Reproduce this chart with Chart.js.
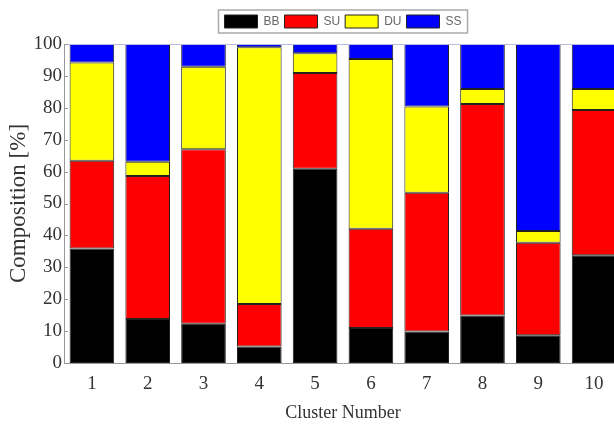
<!DOCTYPE html>
<html>
<head>
<meta charset="utf-8">
<script src="https://cdn.jsdelivr.net/npm/chart.js@4"></script>
<style>
  body { margin: 0; background: #fff; overflow: hidden; }
  #wrap { width: 622px; height: 424px; }
</style>
</head>
<body>
<div id="wrap"><canvas id="grafico"></canvas></div>
<script>
const clusters = ['1', '2', '3', '4', '5', '6', '7', '8', '9', '10'];
const bb = [35.9, 13.8, 12.3, 5.2, 60.9, 11.0, 9.9, 14.9, 8.7, 33.8];
const su = [27.5, 44.8, 54.7, 13.3, 30.0, 31.1, 43.5, 66.3, 29.0, 45.5];
const du = [30.8, 4.5, 25.9, 80.5, 6.2, 53.2, 27.0, 4.7, 3.7, 6.6];
const ss = [5.8, 36.9, 7.1, 1.0, 2.9, 4.7, 19.6, 14.1, 58.6, 14.1];
const yTicks = [0, 10, 20, 30, 40, 50, 60, 70, 80, 90, 100];

const serif = "'Liberation Serif', 'Times New Roman', serif";

// box around the legend, top line and small inward ticks
const molduras = {
  id: 'molduras',
  afterInit(chart) {
    // a little more room under the legend
    const lg = chart.legend;
    const fit = lg.fit;
    lg.fit = function () { fit.call(this); this.height += 6; };
  },
  afterDraw(chart) {
    const ctx = chart.ctx;
    const boxes = chart.legend.legendHitBoxes;
    if (boxes && boxes.length) {
      let l = Infinity, r = -Infinity, t = Infinity, b = -Infinity;
      boxes.forEach(h => {
        l = Math.min(l, h.left); r = Math.max(r, h.left + h.width);
        t = Math.min(t, h.top); b = Math.max(b, h.top + h.height);
      });
      ctx.save();
      ctx.strokeStyle = '#aaa';
      ctx.lineWidth = 1.5;
      ctx.strokeRect(l - 6, t - 5, r - l + 12, b - t + 10);
      ctx.restore();
    }
    const a = chart.chartArea;
    const y = chart.scales.y;
    ctx.save();
    ctx.strokeStyle = '#b8bce0';
    ctx.lineWidth = 1;
    ctx.beginPath();
    ctx.moveTo(a.left, a.top + 0.5);
    ctx.lineTo(a.right, a.top + 0.5);
    ctx.stroke();
    ctx.strokeStyle = '#999';
    ctx.beginPath();
    yTicks.forEach(v => {
      const py = Math.round(y.getPixelForValue(v)) + 0.5;
      ctx.moveTo(a.left, py);
      ctx.lineTo(a.left + 4, py);
    });
    ctx.stroke();
    ctx.restore();
  }
};

const serie = (label, data, cor) => ({
  label: label,
  data: data,
  backgroundColor: cor,
  borderColor: '#222',
  borderWidth: 1,
  borderSkipped: false,
  barPercentage: 0.8,
  categoryPercentage: 1.0
});

new Chart(document.getElementById('grafico'), {
  type: 'bar',
  data: {
    labels: clusters,
    datasets: [
      serie('BB', bb, '#000000'),
      serie('SU', su, '#ff0000'),
      serie('DU', du, '#ffff00'),
      serie('SS', ss, '#0000ff')
    ]
  },
  options: {
    responsive: true,
    maintainAspectRatio: false,
    animation: false,
    layout: { padding: { top: 10, left: 0, right: 0, bottom: 0 } },
    plugins: {
      legend: {
        position: 'top',
        fullSize: false,
        labels: {
          boxWidth: 33,
          boxHeight: 13,
          padding: 5,
          color: '#666',
          font: { family: "'Liberation Sans', Arial, sans-serif", size: 12 }
        }
      },
      tooltip: { enabled: false }
    },
    scales: {
      x: {
        stacked: true,
        grid: { display: false, drawTicks: false },
        border: { display: true, color: '#999', width: 1 },
        ticks: {
          color: '#333',
          padding: 10,
          font: { family: serif, size: 19 }
        },
        title: {
          display: true,
          text: 'Cluster Number',
          color: '#333',
          padding: { top: 0, bottom: 0 },
          font: { family: serif, size: 18 }
        },
        afterFit(s) { s.height = 61; }
      },
      y: {
        stacked: true,
        min: 0,
        max: 100,
        grid: { display: false, drawTicks: false },
        border: { display: true, color: '#999', width: 1 },
        afterBuildTicks(s) { s.ticks = yTicks.map(v => ({ value: v })); },
        ticks: {
          color: '#333',
          padding: 2,
          font: { family: serif, size: 19 }
        },
        title: {
          display: true,
          text: 'Composition [%]',
          color: '#333',
          padding: { top: 5, bottom: 0 },
          font: { family: serif, size: 23 }
        },
        afterFit(s) { s.width = 64; }
      }
    }
  },
  plugins: [molduras]
});
</script>
</body>
</html>
